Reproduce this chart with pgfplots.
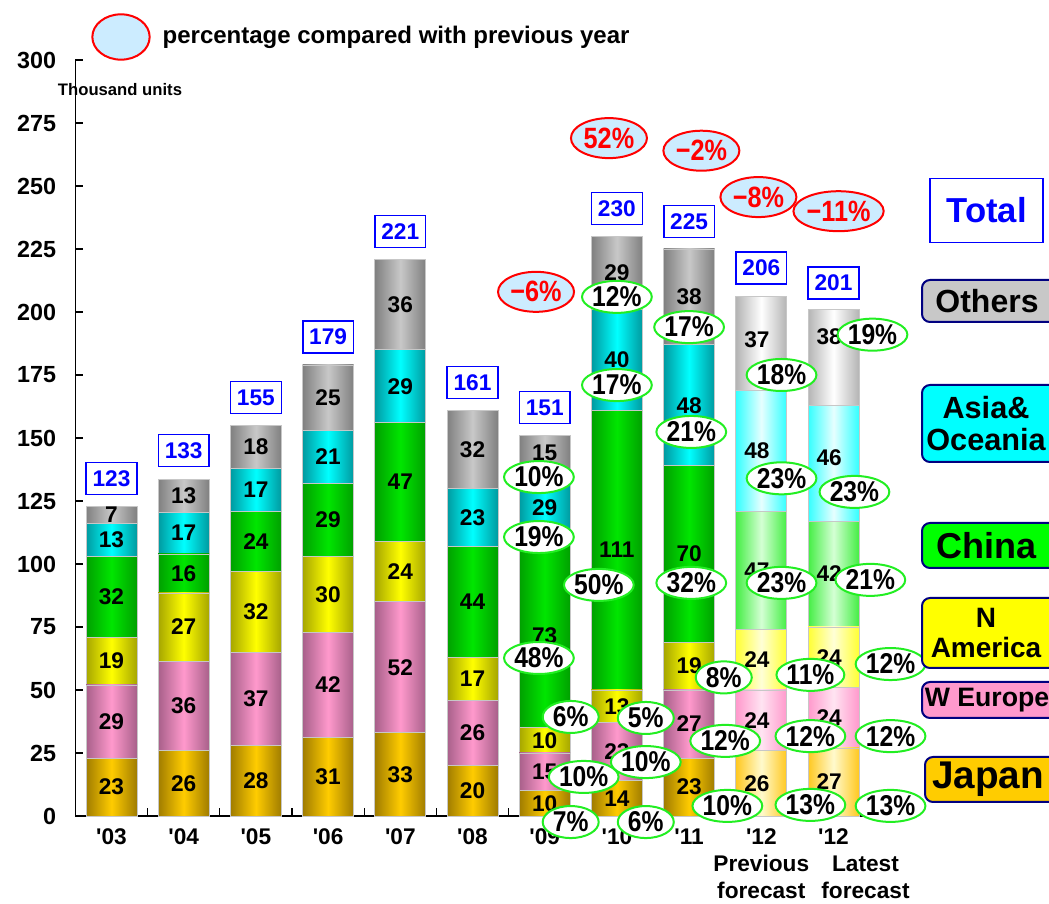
\documentclass[border=0pt]{standalone}
\usepackage{pgfplots}
\pgfplotsset{compat=1.18}
\usepackage{pgfplotstable}
\usepackage{fontspec}
\setmainfont{Liberation Sans}
\newfontfamily\condfont[FakeStretch=0.86]{Liberation Sans}
\usetikzlibrary{shapes.geometric}

\definecolor{jpD}{HTML}{A07C00}\definecolor{jpB}{HTML}{FFCC00}
\definecolor{euD}{HTML}{A8608A}\definecolor{euB}{HTML}{FF99CC}
\definecolor{naD}{HTML}{A6A600}\definecolor{naB}{HTML}{FFFF00}
\definecolor{cnD}{HTML}{00A000}\definecolor{cnB}{HTML}{00E600}
\definecolor{asD}{HTML}{009AA0}\definecolor{asB}{HTML}{00FFFF}
\definecolor{otD}{HTML}{808080}\definecolor{otB}{HTML}{C8C8C8}
\definecolor{jpPE}{HTML}{FFC820}\definecolor{jpPM}{HTML}{FFFACD}
\definecolor{euPE}{HTML}{FF99CC}\definecolor{euPM}{HTML}{FFE4F2}
\definecolor{naPE}{HTML}{FFFF33}\definecolor{naPM}{HTML}{FFFFD6}
\definecolor{cnPE}{HTML}{44EE44}\definecolor{cnPM}{HTML}{D4FFD4}
\definecolor{asPE}{HTML}{33FFFF}\definecolor{asPM}{HTML}{E6FFFF}
\definecolor{otPE}{HTML}{B4B4B4}\definecolor{otPM}{HTML}{FFFFFF}
\definecolor{grEll}{HTML}{22EE22}
\definecolor{ltblue}{HTML}{CCECFF}
\definecolor{navy}{HTML}{000080}

% Japan, W Europe, N America, China, Asia&Oceania, Others (thousand units)
\pgfplotstableread{
x jp eu na cn as ot
0 23 29 19 32 13 7
1 26 35.5 27 15.5 16.5 13
2 28 37 32 24 17 17
3 31 42 30 29 21 26
4 33 52 24 47 29 36
5 20 26 17 44 23 31
6 10 15 10 73 29 14
7 14 23 13 111 40 29
8 23 27 19 70 48 38
9 26 24 24 47 48 37
10 27 24 24 42 46 38
}\data

\newcommand{\fsz}[1]{\bfseries\fontsize{#1}{1.2\dimexpr#1\relax}\selectfont}

\tikzset{
  seglab/.style={font=\fsz{17pt}, text=black, inner sep=0pt},
  greenell/.style={ellipse, draw=grEll, line width=1.5pt, fill=white, minimum width=42pt, minimum height=24pt, inner sep=0pt, text=black, font=\condfont\fsz{21.5pt}},
  redell/.style={ellipse, draw=red, line width=1.5pt, fill=ltblue, minimum width=57pt, minimum height=30pt, inner sep=0pt, text=red, font=\condfont\fsz{22pt}},
  totbox/.style={rectangle, draw=blue, line width=1.1pt, fill=white, minimum width=38pt, minimum height=24pt, inner sep=0pt, text=blue, font=\fsz{17pt}},
  legbox/.style={draw=navy, line width=1.5pt, rounded corners=6pt},
}

\pgfplotsset{
  base/.style={at={(56.55pt,65.25pt)}, anchor=south west, scale only axis,
    width=595.65pt, height=567pt, xmin=-0.5, xmax=10.5, ymin=0, ymax=300, clip=false},
  seg/.style n args={3}{left color=#1, right color=#3, middle color=#2, draw=black!22, line width=0.6pt},
  lbl/.style={scatter, only marks, mark=*, mark size=0pt, mark options={draw=none,fill=none},
    point meta=explicit symbolic,
    scatter/@pre marker code/.code={\node[#1]{\pgfplotspointmeta};},
    scatter/@post marker code/.code={}},
}

\begin{document}
\begin{tikzpicture}[x=0.75pt,y=0.75pt]
\useasboundingbox (0,0) rectangle (1049,903);

% axis frame and ticks
\begin{axis}[base,
  axis x line*=bottom, axis y line*=left, axis line style={line width=1pt},
  ytick={0,25,...,300},
  xtick={0.5,1.5,...,9.5}, xticklabels={},
  tick align=inside, major tick length=6pt, tick style={black, line width=0.8pt},
  /pgf/number format/assume math mode=true,
  yticklabel style={font=\fsz{17.5pt}, xshift=-11pt},
  xticklabel style={font=\fsz{17pt}, align=center},
  extra x ticks={0,1,...,10},
  extra x tick labels={\textquotesingle03,\textquotesingle04,\textquotesingle05,\textquotesingle06,\textquotesingle07,\textquotesingle08,\textquotesingle09,\textquotesingle10,\textquotesingle11,{\textquotesingle12\\Previous\\forecast},{\textquotesingle12\\\hspace*{48pt}Latest\\\hspace*{48pt}forecast}},
  extra x tick style={major tick length=0pt, xticklabel style={font=\fontsize{17pt}{20.4pt}\selectfont\bfseries, align=center, yshift=-6pt}},
]
\end{axis}

% stacked bars, one axis per year so that each bar gets its own shading
\pgfplotsinvokeforeach{0,...,8}{
\begin{axis}[base, hide axis, ybar stacked, bar width=38.25pt, restrict x to domain=#1:#1]
\addplot[seg={jpD}{jpB}{jpD}] table[x=x,y=jp]{\data};
\addplot[seg={euD}{euB}{euD}] table[x=x,y=eu]{\data};
\addplot[seg={naD}{naB}{naD}] table[x=x,y=na]{\data};
\addplot[seg={cnD}{cnB}{cnD}] table[x=x,y=cn]{\data};
\addplot[seg={asD}{asB}{asD}] table[x=x,y=as]{\data};
\addplot[seg={otD}{otB}{otD}] table[x=x,y=ot]{\data};
\end{axis}
}
\pgfplotsinvokeforeach{9,10}{
\begin{axis}[base, hide axis, ybar stacked, bar width=38.25pt, restrict x to domain=#1:#1]
\addplot[seg={jpPE}{jpPM}{jpPE}] table[x=x,y=jp]{\data};
\addplot[seg={euPE}{euPM}{euPE}] table[x=x,y=eu]{\data};
\addplot[seg={naPE}{naPM}{naPE}] table[x=x,y=na]{\data};
\addplot[seg={cnPE}{cnPM}{cnPE}] table[x=x,y=cn]{\data};
\addplot[seg={asPE}{asPM}{asPE}] table[x=x,y=as]{\data};
\addplot[seg={otPE}{otPM}{otPE}] table[x=x,y=ot]{\data};
\end{axis}
}

% labels
\begin{axis}[base, hide axis]
\addplot[lbl=seglab] coordinates {
(0,11.5)[23] (0,37.5)[29] (0,61.5)[19] (0,87)[32] (0,109.5)[13] (0,119.5)[7]
(1,13)[26] (1,43.75)[36] (1,75)[27] (1,96.25)[16] (1,112.25)[17] (1,127)[13]
(2,14)[28] (2,46.5)[37] (2,81)[32] (2,109)[24] (2,129.5)[17] (2,146.5)[18]
(3,15.5)[31] (3,52)[42] (3,88)[30] (3,117.5)[29] (3,142.5)[21] (3,166)[25]
(4,16.5)[33] (4,59)[52] (4,97)[24] (4,132.5)[47] (4,170.5)[29] (4,203)[36]
(5,10)[20] (5,33)[26] (5,54.5)[17] (5,85)[44] (5,118.5)[23] (5,145.5)[32]
(6,5)[10] (6,17.5)[15] (6,30)[10] (6,71.5)[73] (6,122.5)[29] (6,144)[15]
(7,7)[14] (7,25.5)[23] (7,43.5)[13] (7,105.5)[111] (7,181)[40] (7,215.5)[29]
(8,11.5)[23] (8,36.5)[27] (8,59.5)[19] (8,104)[70] (8,163)[48] (8,206)[38]
(8.94,13)[26] (8.94,38)[24] (8.94,62)[24] (8.94,97.5)[47] (8.94,145)[48] (8.94,189)[37]
(9.94,13.5)[27] (9.94,39)[24] (9.94,63)[24] (9.94,96)[42] (9.94,142)[46] (9.94,190)[38]
};
\addplot[lbl=greenell] coordinates {
(5.92,134.5)[10\%] (5.92,110.7)[19\%] (5.92,62.7)[48\%] (6.36,39.3)[6\%] (6.54,15.5)[10\%] (6.36,-2.4)[7\%]
(7.0,206)[12\%] (7.0,171)[17\%] (6.75,91.7)[50\%] (7.4,38.9)[5\%] (7.4,21.4)[10\%] (7.4,-2.4)[6\%]
(8.0,194)[17\%] (8.03,152.4)[21\%] (8.03,92.5)[32\%] (8.48,55)[8\%] (8.5,29.8)[12\%] (8.53,4)[10\%]
(9.28,175)[18\%] (9.28,134)[23\%] (9.28,92.5)[23\%] (9.68,56)[11\%] (9.68,31.7)[12\%] (9.68,4.4)[13\%]
(10.54,191)[19\%] (10.29,128.6)[23\%] (10.51,93.7)[21\%] (10.79,60.3)[12\%] (10.79,31.7)[12\%] (10.79,4)[13\%]
};
\addplot[lbl=redell] coordinates {
(5.88,208)[−6\%] (6.89,269)[52\%] (8.17,264)[−2\%] (8.96,245.6)[−8\%] (10.07,240)[−11\%]
};
\addplot[lbl=totbox] coordinates {
(0,134)[123] (1,145)[133] (2,166)[155] (3,190)[179] (4,232)[221] (5,172)[161]
(6,162)[151] (7,241)[230] (8,236)[225] (9,217.5)[206] (10,211.5)[201]
};
\end{axis}

% top legend
\node[ellipse, draw=red, line width=1.5pt, fill=ltblue, minimum width=43pt, minimum height=34pt] at (121,866) {};
\node[anchor=west, font=\fsz{18pt}] at (158,866) {percentage compared with previous year};
\node[font=\fsz{12.5pt}] at (120,813) {Thousand units};

% right legend
\node[draw=blue, line width=1.2pt, fill=white, minimum width=85pt, minimum height=48pt, text=blue, font=\fsz{26pt}] at (986.5,692.5) {Total};
\draw[legbox, fill=otB] (922,581) rectangle (1060,623);
\node[font=\fsz{24pt}] at (987,602) {Others};
\draw[legbox, fill=asB] (922,441) rectangle (1060,518);
\node[font=\fsz{23pt}, align=center, inner sep=0pt] at (986,479.5) {Asia\&\\[-3pt]Oceania};
\draw[legbox, fill=green] (922,335) rectangle (1060,380);
\node[font=\fsz{27pt}] at (986,357.5) {China};
\draw[legbox, fill=naB] (922,235) rectangle (1060,305);
\node[font=\fsz{21pt}, align=center, inner sep=0pt] at (986,270) {N\\[-2pt]America};
\draw[legbox, fill=euB] (922,185) rectangle (1060,221);
\node[font=\fsz{20pt}] at (987,203) {W Europe};
\draw[legbox, fill=jpB] (925,101) rectangle (1060,146);
\node[font=\fsz{29pt}] at (988,123.5) {Japan};
\end{tikzpicture}
\end{document}
